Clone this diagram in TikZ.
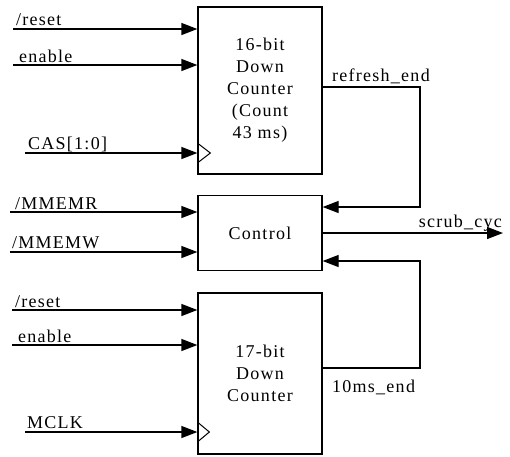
\documentclass[tikz,border=0pt]{standalone}
\usepackage{fontspec}
\setmainfont{Liberation Serif}[LetterSpace=7]
\usetikzlibrary{arrows.meta, calc}

\begin{document}
\begin{tikzpicture}[x=1pt, y=-1pt,
    font=\fontsize{18}{22}\selectfont,
    sig/.style={line width=1.3pt, -{Triangle[length=16pt, width=12pt]}},
    wire/.style={line width=1pt},
    block/.style={draw, line width=1.3pt, minimum width=124pt, align=center, inner sep=0pt},
    lbl/.style={anchor=base west, inner sep=0pt}]

\useasboundingbox (0,0) rectangle (510,456);

% --- 1. BLOCKS ---
\node[block, minimum height=167pt] (cnt16) at (260, 90.5) {16-bit\\Down\\Counter\\(Count\\43 ms)};
\node[block, minimum height=75pt] (ctrl) at (260, 233) {Control};
\node[block, minimum height=161pt] (cnt17) at (260, 373.5) {17-bit\\Down\\Counter};

% Clock marks
\draw[wire] ($(cnt16.west |- 0,143)$) -- ++(13,10) -- ++(-13,10);
\draw[wire] ($(cnt17.west |- 0,422)$) -- ++(12,10) -- ++(-12,10);

% --- 2. INPUTS OF THE 16-BIT COUNTER ---
\coordinate (inA) at (13, 29);
\coordinate (inB) at (13, 65);
\coordinate (inC) at (25, 153);
\draw[sig] (inA) -- (inA -| cnt16.west);
\draw[sig] (inB) -- (inB -| cnt16.west);
\draw[sig] (inC) -- (inC -| cnt16.west);
\node[lbl] (resetA) at (16, 25) {/reset};
\node[lbl] (enableA) at (19, 62) {enable};
\node[lbl] (cas) at (28, 149) {CAS[1:0]};

% --- 3. INPUTS OF THE CONTROL BLOCK ---
\coordinate (inD) at (10, 212);
\coordinate (inE) at (10, 252);
\draw[sig] (inD) -- (inD -| ctrl.west);
\draw[sig] (inE) -- (inE -| ctrl.west);
\node[lbl] (memr) at (15, 209) {/MMEMR};
\node[lbl] (memw) at (12, 248) {/MMEMW};

% --- 4. INPUTS OF THE 17-BIT COUNTER ---
\coordinate (inF) at (12, 310);
\coordinate (inG) at (12, 345);
\coordinate (inH) at (25, 432);
\draw[sig] (inF) -- (inF -| cnt17.west);
\draw[sig] (inG) -- (inG -| cnt17.west);
\draw[sig] (inH) -- (inH -| cnt17.west);
\node[lbl] (resetB) at (15, 307) {/reset};
\node[lbl] (enableB) at (18, 342) {enable};
\node[lbl] (mclk) at (27, 428) {MCLK};

% --- 5. FEEDBACK TO CONTROL ---
\coordinate (fbTop) at (420, 87);
\coordinate (fbBot) at (420, 368);
\draw[sig] (fbTop -| cnt16.east) -- (fbTop) |- ($(ctrl.east |- 0,207)$);
\draw[sig] (fbBot -| cnt17.east) -- (fbBot) |- ($(ctrl.east |- 0,261)$);
\node[lbl] (refresh) at (332, 81) {refresh\_end};
\node[lbl] (tenms) at (332, 392) {10ms\_end};

% --- 6. OUTPUT ---
\coordinate (out) at (503, 233);
\draw[sig] (ctrl.east) -- (out);
\node[anchor=base east, inner sep=0pt] (scrub) at (502, 227) {scrub\_cyc};

\end{tikzpicture}
\end{document}
